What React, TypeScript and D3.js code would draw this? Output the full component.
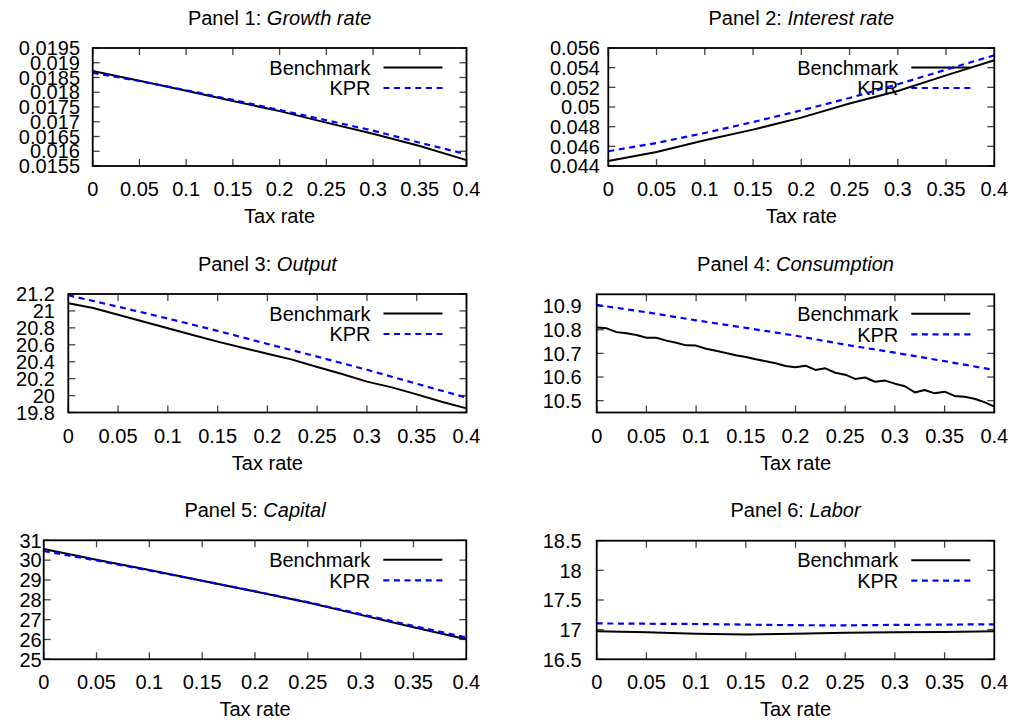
import React from "react";
import * as d3 from "d3";

// ---------- data ----------
const TAX_41 = [0, 0.01, 0.02, 0.03, 0.04, 0.05, 0.06, 0.07, 0.08, 0.09, 0.1, 0.11, 0.12, 0.13, 0.14, 0.15, 0.16, 0.17, 0.18, 0.19, 0.2, 0.21, 0.22, 0.23, 0.24, 0.25, 0.26, 0.27, 0.28, 0.29, 0.3, 0.31, 0.32, 0.33, 0.34, 0.35, 0.36, 0.37, 0.38, 0.39, 0.4];
const TAX_17 = [0, 0.025, 0.05, 0.075, 0.1, 0.125, 0.15, 0.175, 0.2, 0.225, 0.25, 0.275, 0.3, 0.325, 0.35, 0.375, 0.4];
const TAX_9 = [0, 0.05, 0.1, 0.15, 0.2, 0.25, 0.3, 0.35, 0.4];

const X_TICKS = [0, 0.05, 0.1, 0.15, 0.2, 0.25, 0.3, 0.35, 0.4];

const TITLES = ["Growth rate", "Interest rate", "Output", "Consumption", "Capital", "Labor"];
const SERIES_NAMES = ["Benchmark", "KPR"];

// Panel 1: Growth rate
const growthBench = [0.01872, 0.01839, 0.01805, 0.0177, 0.01736, 0.01697, 0.01659, 0.01618, 0.0157];
const growthKPR = [0.01866, 0.01838, 0.01807, 0.01774, 0.0174, 0.01705, 0.0167, 0.01629, 0.0159];
const growthTicks = [0.0155, 0.016, 0.0165, 0.017, 0.0175, 0.018, 0.0185, 0.019, 0.0195];

// Panel 2: Interest rate
const interestBench = [0.04451, 0.04542, 0.04661, 0.0477, 0.04892, 0.05035, 0.05163, 0.05322, 0.05475];
const interestKPR = [0.0455, 0.04634, 0.04736, 0.04847, 0.04966, 0.05092, 0.05231, 0.0538, 0.05526];
const interestTicks = [0.044, 0.046, 0.048, 0.05, 0.052, 0.054, 0.056];

// Panel 3: Output
const outputBench = [21.09, 21.035, 20.955, 20.875, 20.795, 20.715, 20.637, 20.565, 20.495, 20.425, 20.338, 20.255, 20.165, 20.097, 20.014, 19.928, 19.849];
const outputKPR = [21.185, 21.05, 20.91, 20.765, 20.61, 20.46, 20.305, 20.14, 19.975];
const outputTicks = [19.8, 20, 20.2, 20.4, 20.6, 20.8, 21, 21.2];

// Panel 4: Consumption
const consBench = [10.81, 10.806, 10.79, 10.785, 10.778, 10.766, 10.766, 10.754, 10.745, 10.734, 10.733, 10.72, 10.711, 10.702, 10.692, 10.685, 10.675, 10.667, 10.658, 10.647, 10.641, 10.648, 10.63, 10.637, 10.618, 10.61, 10.592, 10.598, 10.58, 10.585, 10.572, 10.561, 10.535, 10.545, 10.531, 10.538, 10.52, 10.517, 10.508, 10.494, 10.475];
const consKPR = [10.905, 10.874, 10.84, 10.808, 10.775, 10.737, 10.703, 10.667, 10.63];
const consTicks = [10.5, 10.6, 10.7, 10.8, 10.9];

// Panel 5: Capital
const capBench = [30.56, 30.02, 29.5, 28.96, 28.42, 27.86, 27.24, 26.62, 26.01];
const capKPR = [30.46, 29.98, 29.48, 28.96, 28.43, 27.88, 27.28, 26.68, 26.1];
const capTicks = [25, 26, 27, 28, 29, 30, 31];

// Panel 6: Labor
const laborBench = [16.975, 16.955, 16.93, 16.918, 16.93, 16.948, 16.955, 16.96, 16.975];
const laborKPR = [17.105, 17.1, 17.095, 17.085, 17.075, 17.072, 17.08, 17.085, 17.09];
const laborTicks = [16.5, 17, 17.5, 18, 18.5];

// ---------- layout ----------
const FONT = "'Liberation Sans', Arial, Helvetica, sans-serif";
const FS = 20;

type Panel = {
  title: string;
  box: { l: number; r: number; t: number; b: number };
  yDomain: [number, number];
  yTicks: number[];
  yLabelX: number;
  bench: { x: number[]; y: number[] };
  kpr: { x: number[]; y: number[] };
};

const panels: Panel[] = [
  { title: TITLES[0], box: { l: 92.7, r: 466.5, t: 48, b: 166 }, yDomain: [0.0155, 0.0195], yTicks: growthTicks, yLabelX: 80, bench: { x: TAX_9, y: growthBench }, kpr: { x: TAX_9, y: growthKPR } },
  { title: TITLES[1], box: { l: 608.3, r: 994.3, t: 48, b: 166 }, yDomain: [0.044, 0.056], yTicks: interestTicks, yLabelX: 600, bench: { x: TAX_9, y: interestBench }, kpr: { x: TAX_9, y: interestKPR } },
  { title: TITLES[2], box: { l: 68.3, r: 466.5, t: 294, b: 412.5 }, yDomain: [19.8, 21.2], yTicks: outputTicks, yLabelX: 55, bench: { x: TAX_17, y: outputBench }, kpr: { x: TAX_9, y: outputKPR } },
  { title: TITLES[3], box: { l: 596.7, r: 994.3, t: 294.3, b: 412.5 }, yDomain: [10.45, 10.95], yTicks: consTicks, yLabelX: 581.7, bench: { x: TAX_41, y: consBench }, kpr: { x: TAX_9, y: consKPR } },
  { title: TITLES[4], box: { l: 43.7, r: 466.3, t: 540.3, b: 659.3 }, yDomain: [25, 31], yTicks: capTicks, yLabelX: 41.7, bench: { x: TAX_9, y: capBench }, kpr: { x: TAX_9, y: capKPR } },
  { title: TITLES[5], box: { l: 596.7, r: 994.3, t: 540.7, b: 659.3 }, yDomain: [16.5, 18.5], yTicks: laborTicks, yLabelX: 581.7, bench: { x: TAX_9, y: laborBench }, kpr: { x: TAX_9, y: laborKPR } },
];

const TICK_LEN = 7;
const DASH = "6,4.6";
const BLUE = "#0000ff";

function PanelView({ p, idx }: { p: Panel; idx: number }) {
  const { l, r, t, b } = p.box;
  const x = d3.scaleLinear().domain([0, 0.4]).range([l, r]);
  const y = d3.scaleLinear().domain(p.yDomain).range([b, t]);
  const line = d3
    .line<[number, number]>()
    .x((d) => x(d[0]))
    .y((d) => y(d[1]));
  const benchPts = p.bench.x.map((v, i) => [v, p.bench.y[i]] as [number, number]);
  const kprPts = p.kpr.x.map((v, i) => [v, p.kpr.y[i]] as [number, number]);
  const cx = (l + r) / 2;
  return (
    <g>
      {/* title */}
      <text x={cx} y={t - 23.5} textAnchor="middle" fontSize={FS} fontFamily={FONT} fill="#000">
        {`Panel ${idx + 1}: `}
        <tspan fontStyle="italic">{p.title}</tspan>
      </text>
      {/* ticks */}
      {X_TICKS.map((v) => (
        <g key={"xt" + v}>
          <line x1={x(v)} x2={x(v)} y1={b} y2={b - TICK_LEN} stroke="#444" strokeWidth={1.3} />
          <line x1={x(v)} x2={x(v)} y1={t} y2={t + TICK_LEN} stroke="#444" strokeWidth={1.3} />
          <text x={x(v)} y={b + 30} textAnchor="middle" fontSize={FS} fontFamily={FONT} fill="#000">
            {String(v)}
          </text>
        </g>
      ))}
      {p.yTicks.map((v) => (
        <g key={"yt" + v}>
          <line x1={l} x2={l + TICK_LEN} y1={y(v)} y2={y(v)} stroke="#444" strokeWidth={1.3} />
          <line x1={r} x2={r - TICK_LEN} y1={y(v)} y2={y(v)} stroke="#444" strokeWidth={1.3} />
          <text x={p.yLabelX} y={y(v)} dy="0.36em" textAnchor="end" fontSize={FS} fontFamily={FONT} fill="#000">
            {String(v)}
          </text>
        </g>
      ))}
      {/* x label */}
      <text x={cx} y={b + 57} textAnchor="middle" fontSize={FS} fontFamily={FONT} fill="#000">
        Tax rate
      </text>
      {/* legend */}
      <text x={r - 96} y={t + 19.5} dy="0.36em" textAnchor="end" fontSize={FS} fontFamily={FONT} fill="#000">
        {SERIES_NAMES[0]}
      </text>
      <line x1={r - 83} x2={r - 24} y1={t + 19.5} y2={t + 19.5} stroke="#000" strokeWidth={2} />
      <text x={r - 96} y={t + 40} dy="0.36em" textAnchor="end" fontSize={FS} fontFamily={FONT} fill="#000">
        {SERIES_NAMES[1]}
      </text>
      <line x1={r - 83} x2={r - 24} y1={t + 40} y2={t + 40} stroke={BLUE} strokeWidth={2.2} strokeDasharray={DASH} />
      {/* series */}
      <path d={line(benchPts) || ""} fill="none" stroke="#000" strokeWidth={2} strokeLinejoin="round" />
      <path d={line(kprPts) || ""} fill="none" stroke={BLUE} strokeWidth={2.2} strokeDasharray={DASH} />
      {/* frame */}
      <rect x={l} y={t} width={r - l} height={b - t} fill="none" stroke="#000" strokeWidth={1.8} />
    </g>
  );
}

export default function App() {
  return (
    <svg
      width={1016}
      height={727}
      style={{ position: "absolute", left: 0, top: 0, display: "block", background: "#fff" }}
    >
      <rect x={0} y={0} width={1016} height={727} fill="#fff" />
      {panels.map((p, i) => (
        <PanelView key={i} p={p} idx={i} />
      ))}
    </svg>
  );
}
